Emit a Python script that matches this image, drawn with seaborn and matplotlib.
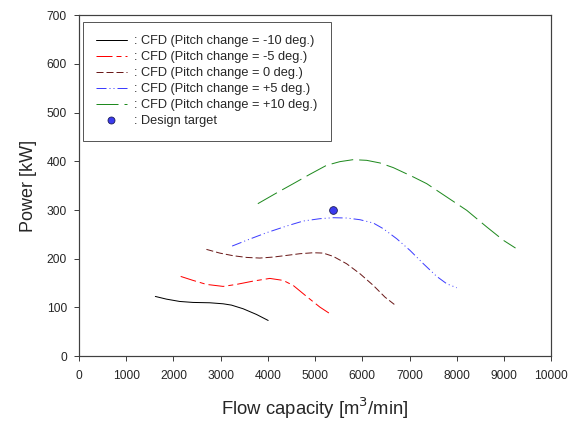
import matplotlib
matplotlib.use("Agg")
import matplotlib.pyplot as plt
import seaborn as sns
import pandas as pd
from matplotlib.lines import Line2D

# Flow capacity [m3/min] and power [kW] for each pitch change
flow_m10 = [1618, 1852, 2134, 2417, 2770, 3053, 3230, 3477, 3760, 4007]
power_m10 = [122.6, 117.1, 112.3, 110.3, 109.6, 107.5, 104.8, 97.3, 85.6, 73.3]

flow_m5 = [2155, 2417, 2700, 3053, 3336, 3689, 4042, 4325, 4537, 4820, 5102, 5350]
power_m5 = [163.7, 155.5, 147.3, 143.2, 147.3, 154.1, 159.6, 155.5, 145.2, 122.6, 100.7, 84.9]

flow_0 = [2700, 2982, 3265, 3548, 3830, 4113, 4396, 4678, 4961, 5173, 5385,
          5668, 5951, 6233, 6480, 6678]
power_0 = [219.2, 211.6, 206.2, 202.7, 201.4, 203.4, 206.8, 210.3, 212.3, 211.6,
           204.8, 189.7, 169.2, 145.2, 121.2, 106.2]

flow_p5 = [3244, 3618, 3972, 4396, 4749, 5102, 5385, 5668, 5951, 6233, 6445,
           6728, 7010, 7293, 7576, 7788, 8000]
power_p5 = [226, 240.4, 253.4, 267.1, 277.4, 282.2, 284.2, 283.6, 280.1, 273.3,
            261.6, 241.1, 217.1, 189.7, 163.7, 148.6, 140.4]

flow_p10 = [3788, 4184, 4537, 4890, 5244, 5526, 5809, 6092, 6374, 6657, 7081,
            7364, 7788, 8212, 8636, 8989, 9244]
power_p10 = [313, 335, 354, 373.3, 391.8, 399.3, 403.4, 402, 396.6, 387, 367.8,
             354.1, 326.7, 299.3, 265.1, 237.7, 221.9]

target_flow = [5385]
target_power = [301]

labels = [
    ": CFD (Pitch change = -10 deg.)",
    ": CFD (Pitch change = -5 deg.)",
    ": CFD (Pitch change = 0 deg.)",
    ": CFD (Pitch change = +5 deg.)",
    ": CFD (Pitch change = +10 deg.)",
]
target_label = ": Design target"

x_ticks = [0, 1000, 2000, 3000, 4000, 5000, 6000, 7000, 8000, 9000, 10000]
y_ticks = [0, 100, 200, 300, 400, 500, 600, 700]

sns.set_theme(style="ticks")
plt.rcParams["font.family"] = ["Liberation Sans", "DejaVu Sans"]

series = [
    (flow_m10, power_m10, "#000000", (None, None)),
    (flow_m5, power_m5, "#ff0000", (16, 4, 5, 4)),
    (flow_0, power_0, "#6b1a1a", (7, 3)),
    (flow_p5, power_p5, "#3d3dff", (10, 3, 1, 3, 1, 3)),
    (flow_p10, power_p10, "#1f8a1f", (22, 6)),
]

fig = plt.figure(figsize=(8, 421 / 72), dpi=72)
ax = fig.add_axes([0.137, 0.154, 0.82, 0.81])

handles = []
for (fx, py, color, dash), lab in zip(series, labels):
    df = pd.DataFrame({"flow": fx, "power": py})
    sns.lineplot(data=df, x="flow", y="power", ax=ax, color=color,
                 linewidth=1.0, sort=False, estimator=None)
    line = ax.lines[-1]
    if dash[0] is not None:
        line.set_dashes(dash)
    h = Line2D([], [], color=color, linewidth=1.0)
    if dash[0] is not None:
        h.set_dashes(dash)
    handles.append(h)

sns.scatterplot(x=target_flow, y=target_power, ax=ax, s=60, color="#3b3bef",
                edgecolor="#1a1a50", linewidth=0.8, zorder=5)
handles.append(Line2D([], [], linestyle="none", marker="o", markersize=7,
                      markerfacecolor="#3b3bef", markeredgecolor="#1a1a50",
                      markeredgewidth=0.8))

ax.set_xlim(0, 10000)
ax.set_ylim(0, 700)
ax.set_xticks(x_ticks)
ax.set_yticks(y_ticks)
ax.tick_params(axis="both", labelsize=12, length=5, width=1, color="#404040",
               direction="out")
ax.tick_params(axis="x", pad=9)
ax.tick_params(axis="y", pad=7)
for sp in ax.spines.values():
    sp.set_visible(True)
    sp.set_color("#404040")
    sp.set_linewidth(1.2)

ax.set_xlabel("Flow capacity [m$^{3}$/min]", fontsize=18.5, labelpad=13)
ax.set_ylabel("Power [kW]", fontsize=18, labelpad=10)

leg = ax.legend(handles, labels + [target_label], loc="upper left",
                bbox_to_anchor=(0.008, 0.98), fontsize=12.8, frameon=True,
                fancybox=False, edgecolor="#303030", handlelength=2.4,
                handletextpad=0.55, labelspacing=0.31, borderpad=1.05,
                borderaxespad=0)
leg.get_frame().set_linewidth(1.0)

fig.savefig("out.png", dpi=72)
